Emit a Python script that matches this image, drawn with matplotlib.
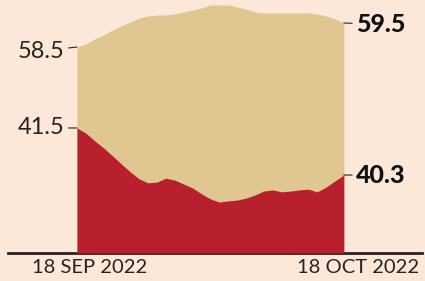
import matplotlib.pyplot as plt
import pandas as pd

dates = pd.date_range('2022-09-18', '2022-10-18', freq='D')

# upper (tan) series, its own scale
upper = [58.54, 58.66, 58.86, 59.02, 59.22, 59.38, 59.54, 59.70, 59.78, 59.82,
         59.82, 59.86, 59.94, 60.02, 60.10, 60.22, 60.22, 60.22, 60.14, 60.06,
         59.94, 59.90, 59.90, 59.90, 59.90, 59.90, 59.90, 59.86, 59.78, 59.66,
         59.50]
# lower (red) series, its own scale
lower = [41.50, 41.37, 41.17, 40.99, 40.79, 40.58, 40.38, 40.20, 40.10, 40.12,
         40.22, 40.17, 40.07, 39.97, 39.82, 39.69, 39.61, 39.64, 39.66, 39.71,
         39.79, 39.89, 39.92, 39.87, 39.89, 39.92, 39.94, 39.87, 39.99, 40.15,
         40.30]
start_label, end_label = '18 SEP 2022', '18 OCT 2022'

bg = '#fbe8d8'
tan = '#e0c690'
red = '#b7202c'
ink = '#2a2220'

fig = plt.figure(figsize=(4.25, 2.81), dpi=100, facecolor=bg)
ax = fig.add_axes([0.181, 0.0996, 0.628, 0.9004])
ax.set_facecolor('none')
ax2 = ax.twinx()

ax.set_ylim(50.3, 60.42)
ax2.set_ylim(38.31, 44.765)
ax.set_xlim(dates[0], dates[-1])

ax.fill_between(dates, 50.3, upper, color=tan, lw=0)
ax2.fill_between(dates, 38.31, lower, color=red, lw=0)

for a in (ax, ax2):
    for s in a.spines.values():
        s.set_visible(False)
    a.set_xticks([])
    a.set_yticks([])

ax.axhline(50.3, xmin=-0.258, xmax=1.292, color=ink, lw=2, clip_on=False)

arrow = dict(arrowstyle='-', color=ink, lw=0.8, shrinkA=1, shrinkB=0)
# start values on the left, end values (bold) on the right
ax.annotate(f'{upper[0]:.1f}', xy=(dates[0], upper[0]),
            xytext=(-9, -3), textcoords='offset points', ha='right', va='center',
            fontsize=17, family='Lato', color=ink, arrowprops=arrow)
ax2.annotate(f'{lower[0]:.1f}', xy=(dates[0], lower[0]), xytext=(-9, 0),
             textcoords='offset points', ha='right', va='center',
             fontsize=17, family='Lato', color=ink, arrowprops=arrow)
ax.annotate(f'{upper[-1]:.1f}', xy=(dates[-1], upper[-1]), xytext=(9, -1),
            textcoords='offset points', ha='left', va='center',
            fontsize=18, family='Lato', fontweight='black', color='#111111',
            arrowprops=arrow)
ax2.annotate(f'{lower[-1]:.1f}', xy=(dates[-1], lower[-1]), xytext=(9, 0),
             textcoords='offset points', ha='left', va='center',
             fontsize=18, family='Lato', fontweight='black', color='#111111',
             arrowprops=arrow)

ax.annotate(start_label, xy=(dates[0], 0), xycoords=('data', 'axes fraction'),
            xytext=(9, -4), textcoords='offset points', ha='center', va='top',
            fontsize=14.5, family='Lato', color=ink)
ax.annotate(end_label, xy=(dates[-1], 0), xycoords=('data', 'axes fraction'),
            xytext=(10, -4), textcoords='offset points', ha='center', va='top',
            fontsize=14.5, family='Lato', color=ink)

fig.savefig('out.png', dpi=100, facecolor=bg)
